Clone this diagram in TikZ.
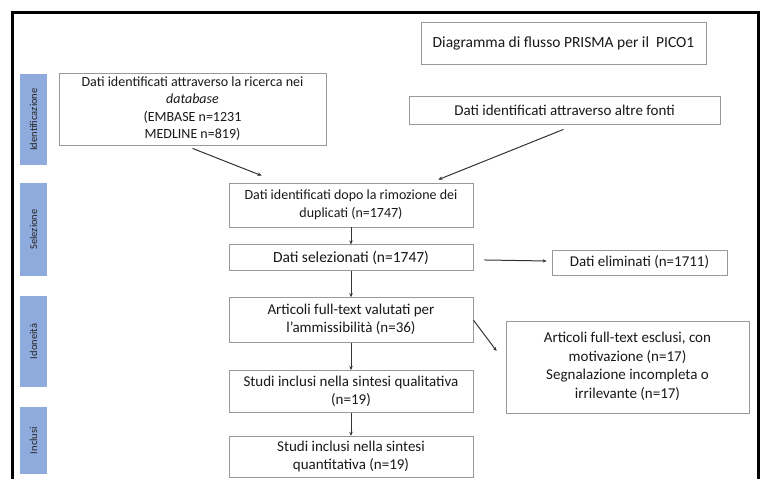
\documentclass[tikz,border=0pt]{standalone}
\usepackage{fontspec}
\setmainfont{Carlito}
\usetikzlibrary{arrows.meta, positioning, calc}
\definecolor{barblue}{RGB}{143,170,220}

\begin{document}
\begin{tikzpicture}[
    x=1pt, y=-1pt,
    >={Stealth[length=4pt, width=3.5pt]},
    box/.style={rectangle, draw=black!40, line width=0.8pt, text centered, text=black!90, inner sep=0pt, font=\fontsize{15}{18}\selectfont},
    colbox/.style={box, minimum width=244pt},
    phase/.style={rectangle, fill=barblue, rotate=90, minimum height=27pt, inner sep=0pt, text=black!85, font=\fontsize{10.5}{12}\selectfont},
    arrow/.style={->, line width=1pt, draw=black!80}
]
\clip (0,0) rectangle (763,479);
\fill[white] (0,0) rectangle (763,479);

% outer frame
\draw[line width=3pt] (12,12) rectangle (758,500);

% PHASE BARS
\node[phase, minimum width=91pt] (ph_id) at (33.5,119.5) {Identificazione};
\node[phase, minimum width=93pt] (ph_sel) at (33.5,229.5) {Selezione};
\node[phase, minimum width=91pt] (ph_ido) at (33.5,341.5) {Idoneità};
\node[phase, minimum width=67pt] (ph_inc) at (33.5,440.5) {Inclusi};

% TOP BOXES
\node[box, minimum width=285pt, minimum height=42pt, font=\fontsize{15.5}{18}\selectfont] (title) at (563.5,43) {Diagramma di flusso PRISMA per il\ \ PICO1};
\node[box, minimum width=267pt, minimum height=72pt, font=\fontsize{14}{17.5}\selectfont] (db) at (192.5,109) {
    \begin{tabular}{c}
        Dati identificati attraverso la ricerca nei \\
        \textit{database} \\
        (EMBASE n=1231 \\
        MEDLINE n=819)
    \end{tabular}
};
\node[box, minimum width=311pt, minimum height=28pt] (altre) at (564.5,110) {Dati identificati attraverso altre fonti};

% MAIN COLUMN
\node[colbox, minimum height=44pt, font=\fontsize{14}{18}\selectfont] (dup) at (351,205) {
    \begin{tabular}{c}
        Dati identificati dopo la rimozione dei \\
        duplicati (n=1747)
    \end{tabular}
};
\node[colbox, minimum height=26pt, below=17pt of dup, font=\fontsize{15.5}{18}\selectfont] (sel) {Dati selezionati (n=1747)};
\node[colbox, minimum height=45pt, below=26pt of sel] (val) {
    \begin{tabular}{c}
        Articoli full-text valutati per \\
        l'ammissibilità (n=36)
    \end{tabular}
};
\node[colbox, minimum height=42pt, below=27pt of val] (qual) {
    \begin{tabular}{c}
        Studi inclusi nella sintesi qualitativa \\
        (n=19)
    \end{tabular}
};
\node[colbox, minimum height=41pt, below=23pt of qual] (quant) {
    \begin{tabular}{c}
        Studi inclusi nella sintesi \\
        quantitativa (n=19)
    \end{tabular}
};

% SIDE BOXES
\node[box, minimum width=175pt, minimum height=25pt] (elim) at (639.5,262.5) {Dati eliminati (n=1711)};
\node[box, minimum width=243pt, minimum height=92pt, font=\fontsize{15}{18.5}\selectfont] (escl) at (627.5,367) {
    \begin{tabular}{c}
        Articoli full-text esclusi, con \\
        motivazione (n=17) \\
        Segnalazione incompleta o \\
        irrilevante (n=17)
    \end{tabular}
};

% CONNECTORS
\draw[arrow] ($(db.south)+(0,3)$) -- ($(dup.north west)+(33,-7)$);
\draw[arrow] ($(altre.south)+(-1,5)$) -- ($(dup.north east)+(-35,-3)$);
\draw[arrow] (dup) -- (sel);
\draw[arrow] (sel) -- (val);
\draw[arrow] (val) -- (qual);
\draw[arrow] (qual) -- (quant);
\draw[arrow, shorten <=11pt, shorten >=5pt] (sel) -- (elim);
\draw[arrow] (val.east) -- ($(escl.west)+(-9,-16)$);

\end{tikzpicture}
\end{document}
